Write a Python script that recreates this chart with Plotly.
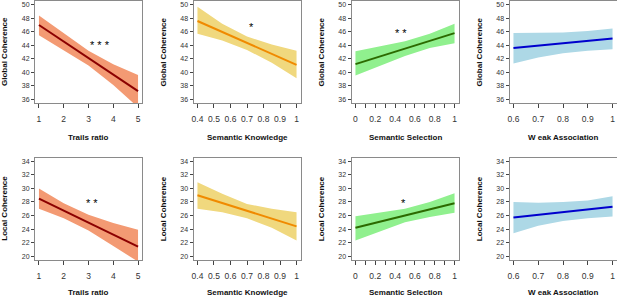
import plotly.graph_objects as go

W, H = 617, 298

# ---------------- data ----------------
trails_x = [1, 2, 3, 4, 5]
sk_x = [0.4, 0.55, 0.7, 0.85, 1.0]
ss_x = [0, 0.25, 0.5, 0.75, 1.0]
wa_x = [0.6, 0.7, 0.8, 0.9, 1.0]

# Global coherence
gc_trails_fit = [47.0, 44.55, 42.1, 39.65, 37.2]
gc_trails_up = [48.4, 45.8, 43.2, 41.2, 39.6]
gc_trails_lo = [45.5, 43.3, 41.0, 38.1, 34.8]

gc_sk_fit = [47.6, 45.98, 44.35, 42.73, 41.1]
gc_sk_up = [49.7, 47.2, 45.3, 44.1, 43.2]
gc_sk_lo = [45.7, 44.7, 43.3, 41.4, 39.1]

gc_ss_fit = [41.2, 42.35, 43.5, 44.65, 45.8]
gc_ss_up = [43.1, 43.8, 44.6, 45.7, 47.2]
gc_ss_lo = [39.5, 40.9, 42.4, 43.6, 44.3]

gc_wa_fit = [43.6, 43.95, 44.3, 44.65, 45.0]
gc_wa_up = [45.8, 45.8, 45.9, 46.1, 46.5]
gc_wa_lo = [41.3, 42.2, 42.8, 43.2, 43.4]

# Local coherence
lc_trails_fit = [28.5, 26.73, 24.95, 23.18, 21.4]
lc_trails_up = [30.0, 27.8, 26.1, 24.9, 23.9]
lc_trails_lo = [27.0, 25.6, 23.8, 21.5, 19.2]

lc_sk_fit = [29.0, 27.85, 26.7, 25.55, 24.4]
lc_sk_up = [30.9, 29.2, 27.7, 27.0, 26.5]
lc_sk_lo = [27.0, 26.5, 25.6, 24.2, 22.3]

lc_ss_fit = [24.2, 25.1, 26.0, 26.9, 27.8]
lc_ss_up = [25.9, 26.4, 27.0, 28.0, 29.3]
lc_ss_lo = [22.3, 23.7, 25.0, 25.8, 26.4]

lc_wa_fit = [25.7, 26.1, 26.5, 26.9, 27.3]
lc_wa_up = [28.0, 27.9, 28.0, 28.2, 28.85]
lc_wa_lo = [23.4, 24.5, 25.2, 25.6, 25.85]

x_titles = ["Trails ratio", "Semantic Knowledge", "Semantic Selection", "W eak Association"]
y_titles = ["Global Coherence", "Local Coherence"]

gc_yticks = [36, 38, 40, 42, 44, 46, 48, 50]
lc_yticks = [20, 22, 24, 26, 28, 30, 32, 34]

trails_ticks = [1, 2, 3, 4, 5]
trails_labels = ["1", "2", "3", "4", "5"]
sk_ticks = [0.4, 0.5, 0.6, 0.7, 0.8, 0.9, 1.0]
sk_labels = ["0.4", "0.5", "0.6", "0.7", "0.8", "0.9", "1"]
ss_ticks = [0, 0.1, 0.2, 0.3, 0.4, 0.5, 0.6, 0.7, 0.8, 0.9, 1.0]
ss_labels = ["0", "", "0.2", "", "0.4", "", "0.6", "", "0.8", "", "1"]
wa_ticks = [0.6, 0.7, 0.8, 0.9, 1.0]
wa_labels = ["0.6", "0.7", "0.8", "0.9", "1"]

# significance stars: (row, col, x, y, text)
stars = [
    (0, 0, 3.48, 44.4, "* * *"),
    (0, 1, 0.73, 47.0, "*"),
    (0, 2, 0.46, 46.1, "* *"),
    (1, 0, 3.14, 28.2, "* *"),
    (1, 2, 0.48, 28.1, "*"),
]

# ---------------- styling ----------------
fills = ["#F39A73", "#F0D87E", "#90F08E", "#ADD8E6"]
lines = ["#8B0000", "#F08A00", "#2C6A00", "#0000CD"]

col_left = [35, 193.5, 351.5, 509.5]
col_w = 107
row_top = [1, 157.5]
row_h = [102, 102.5]
title_gap = [34, 32]

xranges = [[0.84, 5.16], [0.376, 1.024], [-0.04, 1.04], [0.584, 1.016]]
yranges = [[35.44, 50.56], [19.44, 34.56]]

xs = [trails_x, sk_x, ss_x, wa_x]
fits = [[gc_trails_fit, gc_sk_fit, gc_ss_fit, gc_wa_fit],
        [lc_trails_fit, lc_sk_fit, lc_ss_fit, lc_wa_fit]]
ups = [[gc_trails_up, gc_sk_up, gc_ss_up, gc_wa_up],
       [lc_trails_up, lc_sk_up, lc_ss_up, lc_wa_up]]
los = [[gc_trails_lo, gc_sk_lo, gc_ss_lo, gc_wa_lo],
       [lc_trails_lo, lc_sk_lo, lc_ss_lo, lc_wa_lo]]
xticks = [(trails_ticks, trails_labels), (sk_ticks, sk_labels),
          (ss_ticks, ss_labels), (wa_ticks, wa_labels)]
yticks = [gc_yticks, lc_yticks]

FONT = "Liberation Sans, Arial, sans-serif"

fig = go.Figure()
layout = dict(width=W, height=H, margin=dict(l=0, r=0, t=0, b=0),
              paper_bgcolor="white", plot_bgcolor="white", showlegend=False,
              font=dict(family=FONT, color="#222"))
annotations = []

def px2x(px):
    return px / W

def px2y(py):
    return 1 - py / H

for r in range(2):
    for c in range(4):
        k = r * 4 + c + 1
        xa = "x" if k == 1 else f"x{k}"
        ya = "y" if k == 1 else f"y{k}"
        x = xs[c]
        fig.add_trace(go.Scatter(
            x=x + x[::-1], y=ups[r][c] + los[r][c][::-1],
            fill="toself", fillcolor=fills[c], mode="lines",
            line=dict(width=0, color=fills[c]), hoverinfo="skip",
            xaxis=xa, yaxis=ya))
        fig.add_trace(go.Scatter(
            x=x, y=fits[r][c], mode="lines",
            line=dict(color=lines[c], width=2),
            xaxis=xa, yaxis=ya))
        l = col_left[c]
        t = row_top[r]
        b = t + row_h[r]
        axcommon = dict(showgrid=False, zeroline=False, showline=True, mirror=True,
                        linecolor="#8a8a8a", linewidth=1, ticks="outside",
                        tickcolor="#444", tickwidth=1, automargin=False)
        layout["xaxis" if k == 1 else f"xaxis{k}"] = dict(
            domain=[px2x(l), px2x(l + col_w)], range=xranges[c],
            anchor=ya, tickvals=xticks[c][0], ticktext=xticks[c][1],
            ticklen=4, ticklabelstandoff=4,
            tickfont=dict(size=8.5, color="#333", family=FONT), **axcommon)
        layout["yaxis" if k == 1 else f"yaxis{k}"] = dict(
            domain=[px2y(b), px2y(t)], range=yranges[r],
            anchor=xa, tickvals=yticks[r], ticklen=3,
            tickfont=dict(size=7, color="#333", family=FONT), **axcommon)
        # axis titles
        annotations.append(dict(
            xref="paper", yref="paper", x=px2x(l + col_w / 2),
            y=px2y(b + title_gap[r]), text=f"<b>{x_titles[c]}</b>", showarrow=False,
            xanchor="center", yanchor="middle",
            font=dict(size=8, color="#111", family=FONT)))
        annotations.append(dict(
            xref="paper", yref="paper", x=px2x(l - 30),
            y=px2y((t + b) / 2), text=f"<b>{y_titles[r]}</b>", showarrow=False,
            textangle=-90, xanchor="center", yanchor="middle",
            font=dict(size=8, color="#111", family=FONT)))

for (r, c, sx, sy, txt) in stars:
    k = r * 4 + c + 1
    xa = "x" if k == 1 else f"x{k}"
    ya = "y" if k == 1 else f"y{k}"
    annotations.append(dict(xref=xa, yref=ya, x=sx, y=sy, text=txt,
                            showarrow=False, xanchor="center", yanchor="middle",
                            yshift=-2,
                            font=dict(size=11, color="#000", family=FONT)))

layout["annotations"] = annotations
fig.update_layout(**layout)
fig.write_html("out.html", config={"displayModeBar": False},
               post_script="document.body.style.margin='0';document.body.style.padding='0';")
